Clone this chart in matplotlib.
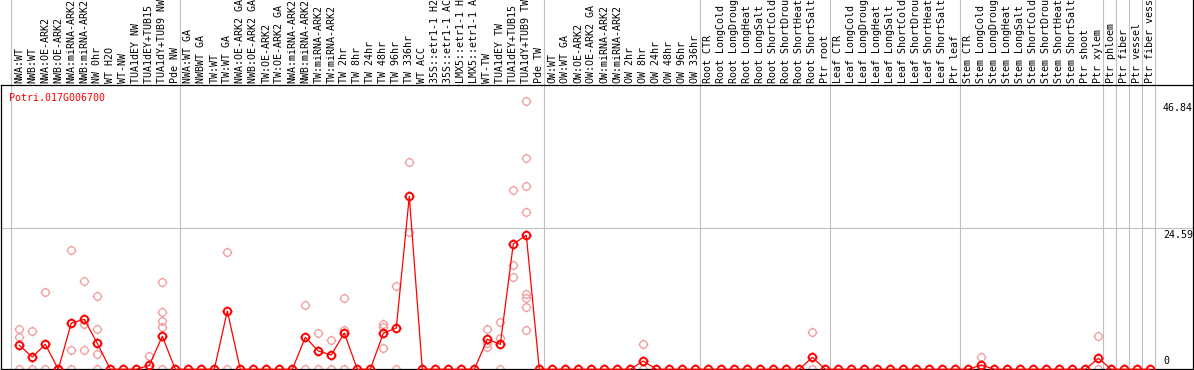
import numpy as np
import matplotlib
matplotlib.use("Agg")
import matplotlib.pyplot as plt
from matplotlib.path import Path

gene = "Potri.017G006700"

labels = [
    # NW
    "NWA:WT", "NWB:WT", "NWA:OE-ARK2", "NWB:OE-ARK2", "NWA:miRNA-ARK2",
    "NWB:miRNA-ARK2", "NW 0hr", "WT H2O", "WT-NW", "TUA1dEY NW",
    "TUA1dEY+TUB15 NW", "TUA1dY+TUB9 NW", "Pde NW",
    # TW
    "NWA:WT GA", "NWBWT GA", "TW:WT", "TW:WT GA", "NWA:OE-ARK2 GA",
    "NWB:OE-ARK2 GA", "TW:OE-ARK2", "TW:OE-ARK2 GA", "NWA:miRNA-ARK2",
    "NWB:miRNA-ARK2", "TW:miRNA-ARK2", "TW:miRNA-ARK2", "TW 2hr", "TW 8hr",
    "TW 24hr", "TW 48hr", "TW 96hr", "TW 336hr", "WT ACC",
    "35S::etr1-1 H2O", "35S::etr1-1 ACC", "LMX5::etr1-1 H2O",
    "LMX5::etr1-1 ACC", "WT-TW", "TUA1dEY TW", "TUA1dEY+TUB15 TW",
    "TUA1dY+TUB9 TW", "Pde TW",
    # OW
    "OW:WT", "OW:WT GA", "OW:OE-ARK2", "OW:OE-ARK2 GA", "OW:miRNA-ARK2",
    "OW:miRNA-ARK2", "OW 2hr", "OW 8hr", "OW 24hr", "OW 48hr", "OW 96hr",
    "OW 336hr",
    # root
    "Root CTR", "Root LongCold", "Root LongDrought", "Root LongHeat",
    "Root LongSalt", "Root ShortCold", "Root ShortDrought", "Root ShortHeat",
    "Root ShortSalt", "Ptr root",
    # leaf
    "Leaf CTR", "Leaf LongCold", "Leaf LongDrought", "Leaf LongHeat",
    "Leaf LongSalt", "Leaf ShortCold", "Leaf ShortDrought", "Leaf ShortHeat",
    "Leaf ShortSalt", "Ptr leaf",
    # stem
    "Stem CTR", "Stem LongCold", "Stem LongDrought", "Stem LongHeat",
    "Stem LongSalt", "Stem ShortCold", "Stem ShortDrought", "Stem ShortHeat",
    "Stem ShortSalt", "Ptr shoot", "Ptr xylem",
    "Ptr phloem", "Ptr fiber", "Ptr vessel", "Ptr fiber vessel",
]
group_sizes = [13, 28, 12, 10, 10, 11, 1, 1, 1, 1]

means = [4.19, 2.14, 4.36, 0, 8.07, 8.72, 4.53, 0, 0, 0, 0.7, 5.75, 0,
         0, 0, 0, 10.17, 0, 0, 0, 0, 0, 5.58, 3.19, 2.49, 6.33, 0, 0, 6.28,
         7.2, 30.17, 0, 0, 0, 0, 0, 5.23, 4.36, 21.85, 23.37, 0,
         0, 0, 0, 0, 0, 0, 0, 1.45, 0, 0, 0, 0,
         0, 0, 0, 0, 0, 0, 0, 0, 2.09, 0,
         0, 0, 0, 0, 0, 0, 0, 0, 0, 0,
         0, 0.75, 0, 0, 0, 0, 0, 0, 0, 0, 1.92,
         0, 0, 0, 0]

# replicate values per sample (index -> list)
reps = {
    0: [6.98, 5.58, 0], 1: [6.68, 0], 2: [13.4, 0], 3: [0],
    4: [20.75, 3.37, 0], 5: [15.35, 7.85, 3.37], 6: [12.73, 6.98, 2.62, 0],
    10: [2.32, 0], 11: [15.17, 9.94, 8.37, 7.32, 0], 16: [20.4, 0],
    22: [11.16, 0], 23: [6.28, 0], 24: [5.11, 0], 25: [12.38, 6.85, 0],
    28: [7.9, 7.43, 3.72], 29: [14.53, 0], 30: [36.1, 24.0],
    36: [6.98, 4.53, 3.95], 37: [8.25, 5.41, 0], 38: [31.2, 18.14, 16.1],
    39: [46.84, 36.8, 31.9, 27.4, 13.2, 12.38, 10.8, 6.85],
    48: [4.36, 0], 61: [6.56, 0], 74: [2.09, 0], 83: [5.81, 0],
}

ymax_val = 46.84
ymid_val = 24.59

# circle with little ticks, like the original bitmap marker
circ = Path.unit_circle()
tick_v = [(0, 1), (0, 1.3), (0, -1), (0, -1.3), (1, 0), (1.3, 0), (-1, 0), (-1.3, 0)]
tick_c = [Path.MOVETO, Path.LINETO] * 4
marker = Path.make_compound_path(circ, Path(tick_v, tick_c))

plt.rcParams['font.family'] = 'DejaVu Sans Mono'
plt.rcParams['font.size'] = 7.2

W, H = 1194, 370
fig = plt.figure(figsize=(W / 100, H / 100), dpi=100)
ax = fig.add_axes([1 / W, 0.7 / H, 1192 / W, (285 - 0.7) / H])
x = np.arange(len(labels))
ax.set_xlim(-1.408, -1.408 + 1192 / 13)
ax.set_ylim(0, 49.58)
ax.set_xticks([])
ax.set_yticks([])
for s in ax.spines.values():
    s.set_linewidth(0.9)
    s.set_color('black')
ax.plot([1, 1], [1, 1.31], transform=ax.transAxes, color='black', lw=0.9, clip_on=False)

grey = '#c0c0c0'
starts = np.concatenate([[0], np.cumsum(group_sizes)])
for b in starts:
    ax.axvline(b - 0.64, ymin=0, ymax=1.31, color=grey, lw=0.8, clip_on=False, zorder=0)
ax.axhline(ymid_val, color=grey, lw=0.8, zorder=0)

for i, vals in reps.items():
    ax.plot([i] * len(vals), vals, linestyle='none', marker=marker, markersize=7,
            markerfacecolor='none', markeredgecolor='#f09a9a', markeredgewidth=0.9,
            clip_on=False, zorder=2)

ax.plot(x, means, color='#ff0000', lw=0.9, zorder=3, clip_on=False)
ax.plot(x, means, linestyle='none', marker=marker, markersize=7,
        markerfacecolor='none', markeredgecolor='#ff0000', markeredgewidth=1.4,
        zorder=4, clip_on=False)

for i, lab in enumerate(labels):
    ax.annotate(lab, xy=(i, 1), xycoords=('data', 'axes fraction'),
                xytext=(0, 1.5), textcoords='offset points', rotation=90,
                ha='center', va='bottom', annotation_clip=False)

ax.annotate(gene, xy=(0, 1), xycoords='axes fraction', xytext=(6, -5.5),
            textcoords='offset points', ha='left', va='top', color='#ff0000')

tx = (1163 - 1) / 1192
for v in [ymax_val, ymid_val]:
    ax.annotate(f"{v:.2f}", xy=(tx, v), xycoords=('axes fraction', 'data'),
                xytext=(0, -1.5), textcoords='offset points', ha='left', va='top')
ax.annotate("0", xy=(tx, 0), xycoords=('axes fraction', 'data'),
            xytext=(0, 2.5), textcoords='offset points', ha='left', va='bottom')

fig.savefig("out.png", dpi=100)
